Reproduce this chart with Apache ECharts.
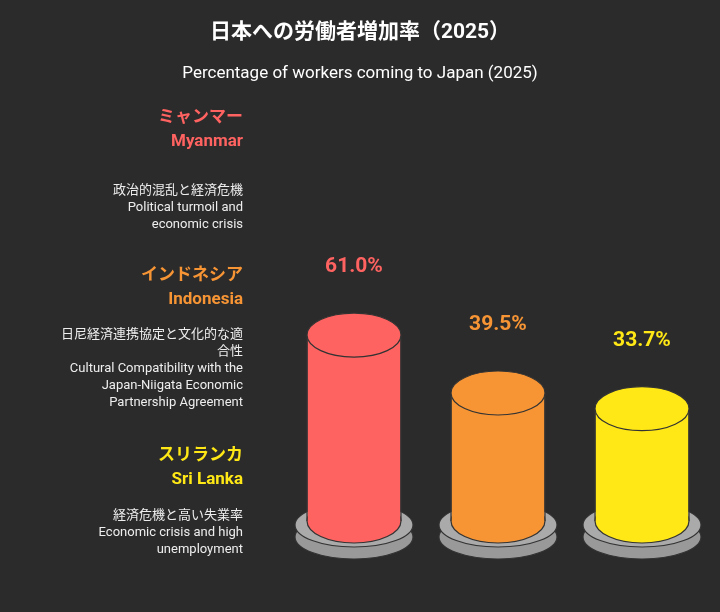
<!DOCTYPE html>
<html>
<head>
<meta charset="utf-8">
<script src="https://cdn.jsdelivr.net/npm/echarts@6/dist/echarts.min.js"></script>
<style>
  html, body { margin: 0; padding: 0; background: #2b2b2b; }
  #chart { width: 720px; height: 612px; }
</style>
</head>
<body>
<div id="chart"></div>
<script>
const countries = ['Myanmar', 'Indonesia', 'Sri Lanka']
const values = [61.0, 39.5, 33.7]
const colors = ['#ff6361', '#f79535', '#ffe815']
const namesJa = ['ミャンマー', 'インドネシア', 'スリランカ']
const reasons = [
  '政治的混乱と経済危機\nPolitical turmoil and\neconomic crisis',
  '日尼経済連携協定と文化的な適\n合性\nCultural Compatibility with the\nJapan-Niigata Economic\nPartnership Agreement',
  '経済危機と高い失業率\nEconomic crisis and high\nunemployment'
]
const BASE = -8

const font = 'Roboto, "Noto Sans CJK JP", sans-serif'
const myChart = echarts.init(document.getElementById('chart'))

// 円柱を描く
function renderCylinder(params, api) {
  const i = params.dataIndex
  const top = api.coord([api.value(0), api.value(1)])
  const bot = api.coord([api.value(0), BASE])
  const rx = 47, ry = 22
  const cx = top[0]
  const stroke = '#333'
  return {
    type: 'group',
    children: [
      { type: 'ellipse', shape: { cx: cx, cy: bot[1] + 16, rx: 59, ry: 22 },
        style: { fill: '#999', stroke: stroke, lineWidth: 1.2 } },
      { type: 'ellipse', shape: { cx: cx, cy: bot[1] + 4, rx: 59, ry: 22 },
        style: { fill: '#aaa', stroke: stroke, lineWidth: 1.2 } },
      { type: 'ellipse', shape: { cx: cx, cy: bot[1], rx: rx, ry: ry },
        style: { fill: colors[i], stroke: stroke, lineWidth: 1.2 } },
      { type: 'rect', shape: { x: cx - rx + 0.6, y: top[1], width: rx * 2 - 1.2, height: bot[1] - top[1] },
        style: { fill: colors[i] } },
      { type: 'line', shape: { x1: cx - rx, y1: top[1], x2: cx - rx, y2: bot[1] },
        style: { stroke: stroke, lineWidth: 1.2 } },
      { type: 'line', shape: { x1: cx + rx, y1: top[1], x2: cx + rx, y2: bot[1] },
        style: { stroke: stroke, lineWidth: 1.2 } },
      { type: 'ellipse', shape: { cx: cx, cy: top[1], rx: rx, ry: ry },
        style: { fill: colors[i], stroke: stroke, lineWidth: 1.2 } },
      { type: 'text', x: cx, y: top[1] - 68,
        style: { text: values[i].toFixed(1) + '%', fill: colors[i], font: 'bold 21px ' + font,
          align: 'center', verticalAlign: 'middle' } }
    ]
  }
}

// 左側の説明テキスト
const leftTexts = []
const nameY = [106, 264, 444]
const reasonY = [182, 326, 507]
countries.forEach((c, i) => {
  leftTexts.push({ type: 'text', x: 243, y: nameY[i],
    style: { text: namesJa[i] + '\n' + c, fill: colors[i], font: 'bold 17px ' + font,
      align: 'right', verticalAlign: 'top', lineHeight: 24 } })
  leftTexts.push({ type: 'text', x: 243, y: reasonY[i],
    style: { text: reasons[i], fill: '#eeeeee', font: '13px ' + font, align: 'right',
      verticalAlign: 'top', lineHeight: 17 } })
})

myChart.setOption({
  backgroundColor: '#2b2b2b',
  title: {
    text: '日本への労働者増加率（2025）',
    subtext: 'Percentage of workers coming to Japan (2025)',
    left: 'center', top: 17, itemGap: 22,
    textStyle: { color: '#fff', fontSize: 21, fontWeight: 'bold', fontFamily: font },
    subtextStyle: { color: '#fff', fontSize: 17, fontFamily: font }
  },
  graphic: leftTexts,
  grid: { left: 282, right: 6, top: 230, bottom: 91 },
  xAxis: { type: 'category', data: countries, show: false },
  yAxis: { type: 'value', min: BASE, max: 100, show: false },
  series: [{
    type: 'custom',
    renderItem: renderCylinder,
    data: values.map((v, i) => [i, v])
  }]
})
</script>
</body>
</html>
